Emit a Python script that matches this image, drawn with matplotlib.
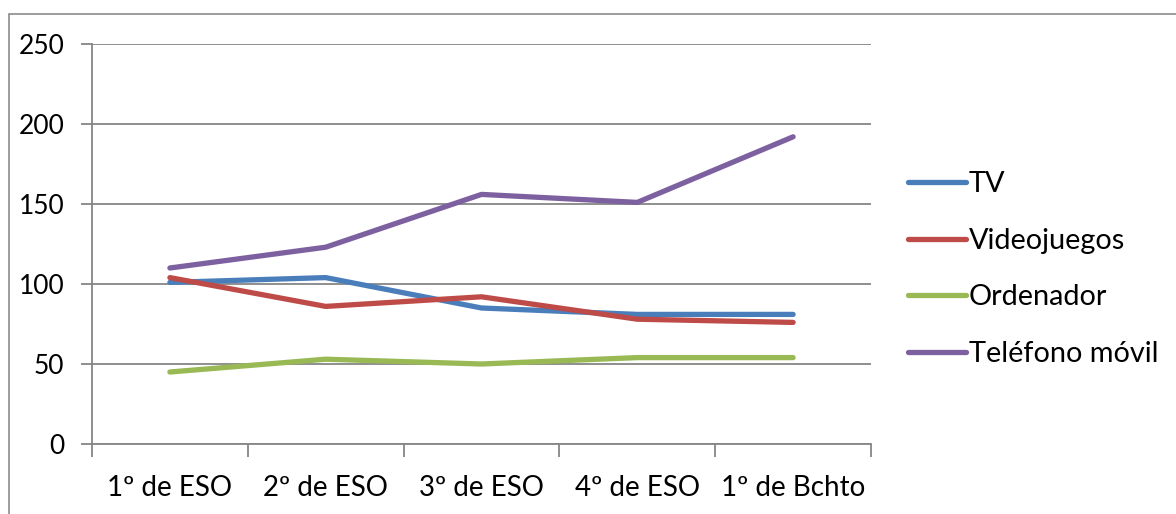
import matplotlib
matplotlib.use("Agg")
import matplotlib.pyplot as plt
from matplotlib.patches import Rectangle
import numpy as np

plt.rcParams['font.family'] = ['Lato', 'DejaVu Sans']

categories = ["1º de ESO", "2º de ESO", "3º de ESO", "4º de ESO", "1º de Bchto"]
tv = [101, 104, 85, 81, 81]
videojuegos = [104, 86, 92, 78, 76]
ordenador = [45, 53, 50, 54, 54]
telefono = [110, 123, 156, 151, 192]
series_names = ["TV", "Videojuegos", "Ordenador", "Teléfono móvil"]
colors = ["#4A7EBB", "#BE4B48", "#98B954", "#7D60A0"]
yticks = [0, 50, 100, 150, 200, 250]

W, H = 1176, 514
fig = plt.figure(figsize=(W / 100, H / 100), dpi=100)
fig.patches.append(Rectangle((9 / W, -0.1), 1.2, 1 - 14 / H + 0.1, transform=fig.transFigure,
                             fill=False, edgecolor="#8C8C8C", linewidth=1.2))

ax = fig.add_axes([92 / W, 1 - 444 / H, (871 - 92) / W, (444 - 44) / H])
x = np.arange(len(categories))
for vals, name, c in zip([tv, videojuegos, ordenador, telefono], series_names, colors):
    ax.plot(x, vals, color=c, linewidth=3.8, label=name, solid_capstyle="round",
            solid_joinstyle="round")

ax.set_xlim(-0.5, len(categories) - 0.5)
ax.set_ylim(0, 250)
ax.set_yticks(yticks)
ax.set_yticklabels([str(v) for v in yticks])
ax.yaxis.grid(True, color="#868686", linewidth=1.3)
ax.set_axisbelow(True)

ax.set_xticks(np.arange(-0.5, len(categories), 1.0))
ax.set_xticklabels([])
ax.set_xticks(x, minor=True)
ax.set_xticklabels(categories, minor=True)
ax.tick_params(axis="x", which="major", length=9, width=1.3, color="#868686", direction="out")
ax.tick_params(axis="x", which="minor", length=0, pad=22, labelsize=20)
ax.tick_params(axis="y", length=8, width=1.3, color="#868686", pad=12, labelsize=19)

for s in ["top", "right"]:
    ax.spines[s].set_visible(False)
for s in ["left", "bottom"]:
    ax.spines[s].set_color("#868686")
    ax.spines[s].set_linewidth(1.3)

leg = fig.legend(loc="upper left", bbox_to_anchor=(908 / W, 1 - 171 / H), frameon=False,
                 fontsize=20.8, handlelength=2.0, handletextpad=0.1, labelspacing=1.06,
                 borderaxespad=0, borderpad=0)

fig.savefig("out.png", dpi=100)
